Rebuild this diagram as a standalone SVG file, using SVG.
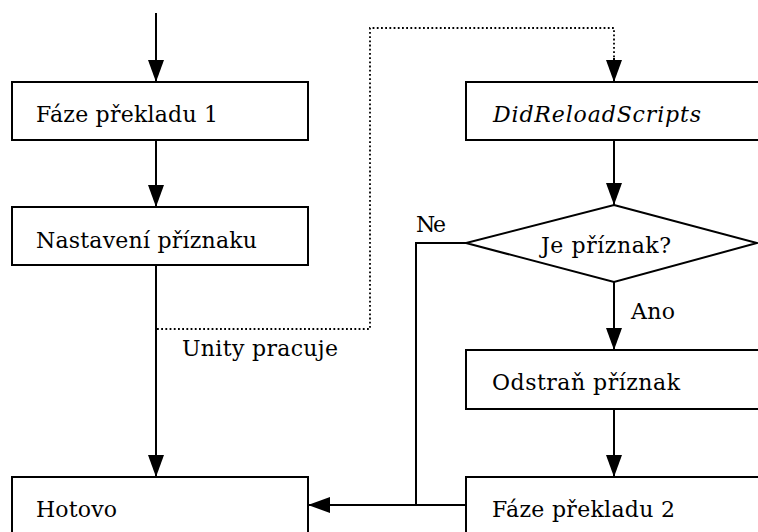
<svg xmlns="http://www.w3.org/2000/svg" width="758" height="532" viewBox="0 0 758 532">
<defs>
<marker id="ah" viewBox="0 0 22 16" refX="22" refY="8" markerWidth="22" markerHeight="16" markerUnits="userSpaceOnUse" orient="auto">
<path d="M0,0 L22,8 L0,16 Z" fill="#000"/>
</marker>
</defs>
<style>
.box{fill:#fff;stroke:#000;stroke-width:2}
.t{font-family:"DejaVu Serif",serif;font-size:22px;fill:#000}
.i{font-style:italic}
.c{fill:none;stroke:#000;stroke-width:2}
.d{fill:none;stroke:#000;stroke-width:1.8;stroke-dasharray:1.8 2.4}
</style>
<rect width="758" height="532" fill="#fff"/>
<g id="connectors">
<path class="c" d="M156,13 V82" marker-end="url(#ah)"/>
<path class="c" d="M156,140 V207" marker-end="url(#ah)"/>
<path class="c" d="M156,265 V477" marker-end="url(#ah)"/>
<path class="d" d="M157,329 H370 V28 H614 V60"/>
<path class="c" d="M614,58 V82" marker-end="url(#ah)"/>
<path class="c" d="M614,140 V205" marker-end="url(#ah)"/>
<path class="c" d="M614,282 V350" marker-end="url(#ah)"/>
<path class="c" d="M614,409 V477" marker-end="url(#ah)"/>
<path class="c" d="M466,243 H416 V505"/>
<path class="c" d="M466,505 H308" marker-end="url(#ah)"/>
<text class="t" x="416" y="232" textLength="30">Ne</text>
<text class="t" x="631" y="319" textLength="44">Ano</text>
<text class="t" x="182" y="356" textLength="156">Unity pracuje</text>
</g>
<g id="n1">
<rect class="box" x="12" y="82" width="296" height="58"/>
<text class="t" x="36" y="122" textLength="182">Fáze překladu 1</text>
</g>
<g id="n2">
<rect class="box" x="12" y="207" width="296" height="58"/>
<text class="t" x="36" y="248" textLength="221">Nastavení příznaku</text>
</g>
<g id="n3">
<rect class="box" x="12" y="477" width="296" height="70"/>
<text class="t" x="36" y="517" textLength="81">Hotovo</text>
</g>
<g id="n4">
<rect class="box" x="466" y="82" width="310" height="58"/>
<text class="t i" x="493" y="122" textLength="208">DidReloadScripts</text>
</g>
<g id="n5">
<path class="box" d="M614,205 L757,243 L614,282 L466,243 Z"/>
<text class="t" x="541" y="253" textLength="130">Je příznak?</text>
</g>
<g id="n6">
<rect class="box" x="466" y="350" width="310" height="59"/>
<text class="t" x="492" y="390" textLength="188">Odstraň příznak</text>
</g>
<g id="n7">
<rect class="box" x="466" y="477" width="310" height="70"/>
<text class="t" x="492" y="517" textLength="183">Fáze překladu 2</text>
</g>
</svg>
